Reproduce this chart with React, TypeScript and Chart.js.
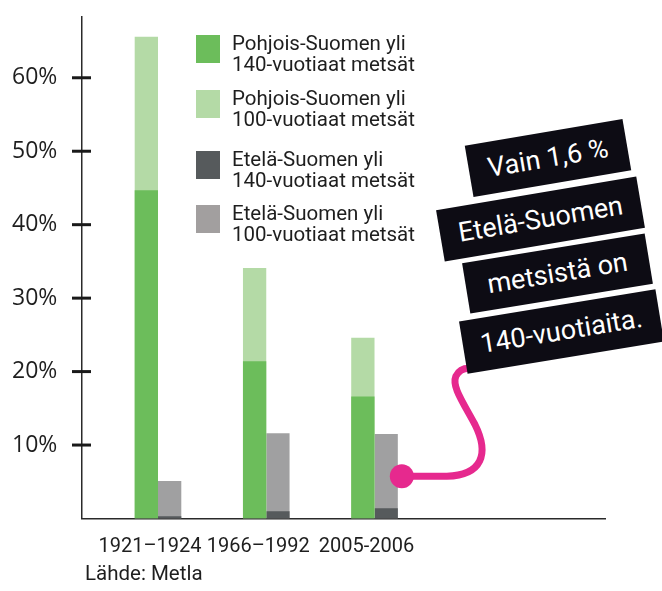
import React, { useEffect, useRef } from 'react';
import { Chart, registerables } from 'chart.js';

Chart.register(...registerables);

// ---- data ----
const categories = ['1921–1924', '1966–1992', '2005-2006'];
const north140 = [44.7, 21.4, 16.6];
const north100 = [65.6, 34.1, 24.6];
const south140 = [0.3, 1.0, 1.4];
const south100 = [5.1, 11.6, 11.5];
const yTickValues = [10, 20, 30, 40, 50, 60];

const seriesLabels = [
  ['Pohjois-Suomen yli', '140-vuotiaat metsät'],
  ['Pohjois-Suomen yli', '100-vuotiaat metsät'],
  ['Etelä-Suomen yli', '140-vuotiaat metsät'],
  ['Etelä-Suomen yli', '100-vuotiaat metsät'],
];
const calloutLines = ['Vain 1,6 %', 'Etelä-Suomen', 'metsistä on', '140-vuotiaita.'];
const sourceText = 'Lähde: Metla';

// ---- styles ----
const GREEN = '#6cbd5b';
const LIGHT_GREEN = '#b4daa6';
const DARK_GREY = '#565a5c';
const GREY = '#a0a0a1';
const seriesColors = [GREEN, LIGHT_GREEN, DARK_GREY, '#a29f9f'];
const MAGENTA = '#e6298e';
const TEXT = '#1e1e1e';

const legendTops = [35, 90, 151, 205];
const calloutBoxes = [
  { cx: 548, cy: 157.5, w: 160, h: 52, a: -9.7 },
  { cx: 540, cy: 219, w: 203, h: 52, a: -9.6 },
  { cx: 557, cy: 273.5, w: 185, h: 51, a: -9.3 },
  { cx: 561, cy: 331, w: 199, h: 53, a: -9.3 },
];

const tickMarkPlugin = {
  id: 'tickMarks',
  afterDraw(chart: any) {
    const ys = chart.scales.y;
    const ctx = chart.ctx;
    ctx.save();
    ctx.strokeStyle = '#1a1a1a';
    ctx.lineWidth = 3;
    ys.ticks.forEach((t: any) => {
      if (!yTickValues.includes(t.value)) return;
      const py = ys.getPixelForValue(t.value);
      ctx.beginPath();
      ctx.moveTo(ys.right - 10, py);
      ctx.lineTo(ys.right + 9, py);
      ctx.stroke();
    });
    ctx.restore();
  },
};

const calloutPlugin = {
  id: 'callout',
  afterDatasetsDraw(chart: any) {
    const meta = chart.getDatasetMeta(3);
    const el = meta.data[2];
    if (!el) return;
    const p = el.getProps(['x', 'y', 'base', 'width'], true);
    const x0 = p.x + p.width / 2 + 4;
    const y0 = (p.y + p.base) / 2;
    const ctx = chart.ctx;
    ctx.save();
    ctx.strokeStyle = MAGENTA;
    ctx.fillStyle = MAGENTA;
    ctx.lineWidth = 7;
    ctx.lineCap = 'round';
    ctx.beginPath();
    ctx.moveTo(x0, y0);
    ctx.lineTo(x0 + 45, y0);
    ctx.bezierCurveTo(x0 + 80, y0 - 1, x0 + 88, y0 - 22, x0 + 73, y0 - 52);
    ctx.bezierCurveTo(x0 + 60, y0 - 76, x0 + 50, y0 - 90, x0 + 54, y0 - 100);
    ctx.bezierCurveTo(x0 + 57, y0 - 106, x0 + 62, y0 - 108, x0 + 67, y0 - 108);
    ctx.stroke();
    ctx.beginPath();
    ctx.arc(x0, y0, 12, 0, Math.PI * 2);
    ctx.fill();
    ctx.restore();
  },
};

export default function App() {
  const canvasRef = useRef<HTMLCanvasElement | null>(null);

  useEffect(() => {
    if (!canvasRef.current) return;
    const toPoints = (arr: number[]) => arr.map((v, i) => ({ x: i, y: v }));
    const chart = new Chart(canvasRef.current, {
      type: 'bar',
      data: {
        datasets: [
          { label: seriesLabels[0].join(' '), data: toPoints(north140), backgroundColor: GREEN, stack: 'north' },
          { label: seriesLabels[1].join(' '), data: toPoints(north100), backgroundColor: LIGHT_GREEN, stack: 'north' },
          { label: seriesLabels[2].join(' '), data: toPoints(south140), backgroundColor: DARK_GREY, stack: 'south' },
          { label: seriesLabels[3].join(' '), data: toPoints(south100), backgroundColor: GREY, stack: 'south' },
        ] as any,
      },
      options: {
        animation: false,
        responsive: false,
        devicePixelRatio: 1,
        layout: { padding: { left: 12, top: 7, right: 57, bottom: 0 } },
        datasets: { bar: { categoryPercentage: 0.4305, barPercentage: 1, borderWidth: 0 } } as any,
        plugins: { legend: { display: false }, tooltip: { enabled: false } },
        scales: {
          x: {
            type: 'linear',
            min: -0.702,
            max: 4.129,
            stacked: true,
            offset: false,
            grid: { display: false, drawTicks: false },
            border: { display: true, color: '#2a2a2a', width: 1.5 },
            afterBuildTicks: (scale: any) => {
              scale.ticks = categories.map((_, i) => ({ value: i }));
            },
            afterFit: (scale: any) => {
              scale.height = 72.5;
            },
            ticks: {
              autoSkip: false,
              maxRotation: 0,
              padding: 16,
              labelOffset: -8,
              color: TEXT,
              font: { family: 'Roboto', size: 20 },
              callback: (v: any) => categories[v] ?? '',
            },
          },
          y: {
            min: 0,
            max: 68.3,
            stacked: false,
            grid: { display: false },
            border: { display: true, color: '#2a2a2a', width: 1.5 },
            afterFit: (scale: any) => {
              scale.width = 70;
            },
            ticks: {
              stepSize: 10,
              crossAlign: 'far',
              color: TEXT,
              font: { family: 'Open Sans', size: 23 },
              callback: (v: any) => (yTickValues.includes(v) ? v + '%' : ''),
            },
          },
        } as any,
      },
      plugins: [tickMarkPlugin, calloutPlugin],
    });
    return () => chart.destroy();
  }, []);

  return (
    <div style={{ position: 'fixed', left: 0, top: 0, width: 662, height: 591, background: '#fff', overflow: 'hidden' }}>
      <canvas ref={canvasRef} width={662} height={591} style={{ position: 'absolute', left: 0, top: 0 }} />
      {seriesLabels.map((lines, i) => (
        <div key={i} style={{ position: 'absolute', left: 196, top: legendTops[i] }}>
          <div style={{ position: 'absolute', left: 0, top: 0, width: 24, height: 28, background: seriesColors[i] }} />
          <div
            style={{
              position: 'absolute',
              left: 36,
              top: -2,
              whiteSpace: 'nowrap',
              fontFamily: 'Roboto',
              fontSize: 20.5,
              lineHeight: '20.5px',
              color: TEXT,
            }}
          >
            {lines[0]}
            <br />
            {lines[1]}
          </div>
        </div>
      ))}
      {calloutBoxes.map((b, i) => (
        <div
          key={i}
          style={{
            position: 'absolute',
            left: b.cx - b.w / 2,
            top: b.cy - b.h / 2,
            width: b.w,
            height: b.h,
            background: '#0d0c14',
            color: '#fff',
            transform: `rotate(${b.a}deg)`,
            fontFamily: 'Roboto',
            fontWeight: 400,
            fontSize: 27,
            lineHeight: `${b.h}px`,
            textAlign: 'center',
            whiteSpace: 'nowrap',
          }}
        >
          {calloutLines[i]}
        </div>
      ))}
      <div
        style={{
          position: 'absolute',
          left: 85,
          top: 561,
          fontFamily: 'Roboto',
          fontSize: 20.5,
          lineHeight: '24px',
          color: TEXT,
          whiteSpace: 'nowrap',
        }}
      >
        {sourceText}
      </div>
    </div>
  );
}
